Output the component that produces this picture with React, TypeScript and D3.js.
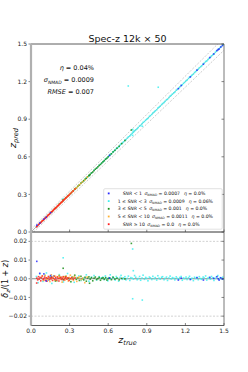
import React from 'react';
import * as d3 from 'd3';

const titleText = 'Spec-z 12k × 50';
const axisTicks = [0, 0.3, 0.6, 0.9, 1.2, 1.5];
const axisTickLabels = ['0.0', '0.3', '0.6', '0.9', '1.2', '1.5'];
const resTicks = [-0.02, -0.01, 0, 0.01, 0.02];
const resTickLabels = ['\u22120.02', '\u22120.01', '0.00', '0.01', '0.02'];
const statLabels = ['\u03b7 = 0.04%', '0.0009', 'RMSE = 0.007'];

// SNR classes (legend order)
const classPrefix = ['', '1 \u2264 ', '3 \u2264 ', '5 \u2264 ', ''];
const classSuffix = [' < 1', ' < 3', ' < 5', ' < 10', ' \u2265 10'];
const classSigma = ['0.0007', '0.0009', '0.001', '0.0011', '0.0'];
const classEta = ['0.0%', '0.06%', '0.0%', '0.0%', '0.0%'];
const classColors = ['#2a2aff', '#3ff0f0', '#1a8f1a', '#ffb030', '#ff2020'];

// SNR < 1
const blueZ = [0.045, 0.068, 0.1, 0.118, 0.152, 0.61, 1.145, 1.168, 1.238, 1.29, 1.34, 1.39, 1.42, 1.445, 1.455, 1.462, 1.475, 1.488];
const blueDz = [0.0093, 0.0029, 0.0026, -0.0012, 0.0017, 0.0004, -0.0007, 0.0003, -0.0004, 0.0006, -0.0007, 0.0007, 0.0002, 0.0011, 0.0, -0.0007, 0.0005, -0.0002];

// 1 <= SNR < 3
const cyanZ = [
  0.042, 0.055, 0.068, 0.08, 0.093, 0.107, 0.12, 0.134, 0.148, 0.162, 0.176, 0.19, 0.205, 0.22, 0.236, 0.252,
  0.268, 0.284, 0.3, 0.318, 0.336, 0.354, 0.372, 0.39, 0.41, 0.43, 0.45, 0.47, 0.49, 0.51, 0.53, 0.545,
  0.558, 0.567, 0.578, 0.586, 0.597, 0.605, 0.616, 0.624, 0.635, 0.643,
  0.654, 0.663, 0.672, 0.681, 0.692, 0.7, 0.711, 0.719, 0.73, 0.738,
  0.749, 0.757, 0.768, 0.776, 0.787, 0.796, 0.805, 0.814, 0.825, 0.833,
  0.844, 0.852, 0.863, 0.871, 0.882, 0.891, 0.9, 0.909, 0.92, 0.928,
  0.939, 0.947, 0.958, 0.966, 0.977, 0.986, 0.995, 1.004, 1.015, 1.023,
  1.034, 1.042, 1.053, 1.061, 1.072, 1.081, 1.09, 1.099, 1.11, 1.118,
  1.129, 1.137, 1.148, 1.156, 1.167, 1.176, 1.185, 1.194, 1.205, 1.213,
  1.224, 1.232, 1.243, 1.251, 1.262, 1.271, 1.28, 1.289, 1.3, 1.308,
  1.319, 1.327, 1.338, 1.346, 1.357, 1.366, 1.375, 1.384, 1.395, 1.403,
  1.414, 1.422, 1.433, 1.441, 1.452, 1.461, 1.47, 1.479, 1.49, 1.497,
  0.79, 0.795, 0.79, 0.865, 0.25, 0.756, 0.989,
];
const cyanDz = [
  0.0012, -0.0021, 0.0026, 0.0005, -0.0014, 0.0018, 0.0031, -0.0008, 0.0009, -0.0025, 0.0016, 0.0002, -0.0011, 0.0022, 0.0007, -0.0017,
  0.0013, 0.0028, -0.0004, 0.001, -0.0019, 0.0006, 0.0015, -0.0009, 0.0003, 0.0021, -0.0013, 0.0008, 0.0017, -0.0006, 0.0011, 0.0004,
  0.0008, -0.0004, 0.0015, 0.0002, -0.0011, 0.0006, 0.0021, -0.0002, 0.0009, 0.0004,
  -0.0007, 0.0012, 0.0003, -0.0013, 0.0007, 0.0018, -0.0003, 0.0005, 0.0011, -0.0006,
  0.0002, 0.0014, -0.0009, 0.0006, 0.0003, -0.0002, 0.0017, 0.0008, -0.0005, 0.0001,
  0.0012, -0.0008, 0.0004, 0.0019, -0.0003, 0.0007, 0.0002, -0.0011, 0.0009, 0.0005,
  -0.0004, 0.0013, 0.0001, 0.0006, -0.0007, 0.0016, 0.0003, -0.0002, 0.0008, 0.0011,
  -0.0005, 0.0002, 0.0009, -0.0009, 0.0004, 0.0014, -0.0001, 0.0006, 0.0003, -0.0006,
  0.001, 0.0002, -0.0003, 0.0007, 0.0012, -0.0008, 0.0004, 0.0001, 0.0009, -0.0004,
  0.0005, 0.0013, -0.0002, 0.0003, -0.001, 0.0008, 0.0002, 0.0006, -0.0005, 0.0011,
  0.0001, -0.0003, 0.0009, 0.0004, 0.0015, -0.0007, 0.0003, 0.0007, -0.0002, 0.0012,
  0.0005, -0.0009, 0.0002, 0.001, 0.0017, -0.0004, 0.0006, 0.0001, 0.0008, -0.0003,
  0.0159, 0.0043, -0.0107, -0.0114, 0.0112, 0.2329, 0.0835,
];

// 3 <= SNR < 5
const greenZ = [0.16, 0.19, 0.22, 0.25, 0.27, 0.29, 0.31, 0.325, 0.34, 0.352, 0.364, 0.376, 0.388, 0.4, 0.41, 0.42, 0.43, 0.44, 0.45, 0.46, 0.47, 0.48, 0.49, 0.5, 0.51, 0.52, 0.53, 0.54, 0.55, 0.56, 0.57, 0.58, 0.59, 0.6, 0.612, 0.625, 0.638, 0.652, 0.668, 0.685, 0.705, 0.73, 0.78, 0.25, 0.455];
const greenDz = [0.0009, -0.0012, 0.0016, -0.0005, 0.0011, 0.0002, -0.0016, 0.0007, 0.0019, -0.0003, 0.0005, -0.0009, 0.0013, 0.0001, -0.0006, 0.0008, -0.0013, 0.0004, 0.001, -0.0002, 0.0006, -0.0011, 0.0003, 0.0009, -0.0004, 0.0001, 0.0007, -0.0008, 0.0002, 0.0005, -0.0003, 0.0006, -0.0007, 0.0001, 0.0004, -0.0005, 0.0008, -0.0002, 0.0003, -0.0006, 0.0002, -0.0001, 0.0189, 0.0056, -0.0024];

// 5 <= SNR < 10
const orangeZ = [0.085, 0.098, 0.11, 0.123, 0.135, 0.147, 0.158, 0.17, 0.181, 0.19, 0.2, 0.209, 0.218, 0.226, 0.234, 0.242, 0.25, 0.258, 0.266, 0.274, 0.282, 0.29, 0.298, 0.306, 0.314, 0.322, 0.33, 0.338, 0.347, 0.356, 0.366, 0.377, 0.389, 0.402, 0.418, 0.436];
const orangeDz = [0.0012, -0.0009, 0.0018, -0.0004, 0.0008, -0.0015, 0.0021, 0.0003, -0.0007, 0.0013, -0.0011, 0.0006, 0.0017, -0.0002, 0.0009, -0.0018, 0.0004, 0.0011, -0.0006, 0.0014, 0.0001, -0.0012, 0.0007, 0.0019, -0.0003, 0.0008, -0.0009, 0.0012, 0.0002, -0.0014, 0.0006, 0.001, -0.0005, 0.0003, -0.0021, 0.0009];

// SNR >= 10
const redZ = [0.044, 0.045, 0.052, 0.058, 0.063, 0.07, 0.076, 0.081, 0.088, 0.094, 0.1, 0.106, 0.112, 0.118, 0.124, 0.13, 0.136, 0.142, 0.148, 0.155, 0.161, 0.167, 0.173, 0.18, 0.186, 0.192, 0.198, 0.205, 0.211, 0.217, 0.224, 0.23, 0.237, 0.243, 0.25, 0.257, 0.264, 0.271, 0.279, 0.287, 0.296, 0.305, 0.316, 0.328, 0.342];
const redDz = [-0.0023, 0.0003, -0.0006, 0.0011, -0.0002, 0.0007, -0.0011, 0.0004, 0.0015, -0.0004, 0.0001, 0.0009, -0.0008, 0.0005, -0.0013, 0.0002, 0.0012, -0.0005, 0.0006, -0.0001, 0.0008, -0.0009, 0.0003, 0.0014, -0.0003, 0.0005, -0.0007, 0.001, 0.0001, -0.0012, 0.0004, 0.0007, -0.0004, 0.0002, 0.0011, -0.0006, 0.0003, 0.0008, -0.0002, 0.0005, -0.0009, 0.0001, 0.0006, -0.0003, 0.0004];

const outlierFrac = 0.02;

const FONT = 'DejaVu Sans, sans-serif';

export default function App() {
  const W = 248;
  const H = 372;
  const x = d3.scaleLinear().domain([0, 1.5]).range([31, 224]);
  const yT = d3.scaleLinear().domain([0, 1.5]).range([232, 44]);
  const yB = d3.scaleLinear().domain([-0.025, 0.025]).range([325.5, 232]);
  const [x0, x1] = x.range();
  const tTop = yT.range()[1];
  const tMid = yT.range()[0];
  const tBot = yB.range()[0];

  // draw order: cyan, green, orange, red, blue
  const series = [
    { c: classColors[1], z: cyanZ, dz: cyanDz },
    { c: classColors[2], z: greenZ, dz: greenDz },
    { c: classColors[3], z: orangeZ, dz: orangeDz },
    { c: classColors[4], z: redZ, dz: redDz },
    { c: classColors[0], z: blueZ, dz: blueDz },
  ];

  const line = d3.line<[number, number]>().x((d) => x(d[0])).y((d) => yT(d[1]));
  const diag: [number, number][] = [[0, 0], [1.5, 1.5]];
  const upper: [number, number][] = [[0, outlierFrac], [1.5, 1.5 + outlierFrac * 2.5]];
  const lower: [number, number][] = [[0, -outlierFrac], [1.5, 1.5 - outlierFrac * 2.5]];

  const ms = 1.6;
  const tl = 2.5;

  return (
    <svg width={W} height={H} style={{ position: 'absolute', left: 0, top: 0, background: '#fff' }} fontFamily={FONT}>
      <defs>
        <clipPath id="clipTop">
          <rect x={x0} y={tTop} width={x1 - x0} height={tMid - tTop} />
        </clipPath>
        <clipPath id="clipBot">
          <rect x={x0} y={tMid} width={x1 - x0} height={tBot - tMid} />
        </clipPath>
      </defs>
      <rect x={0} y={0} width={W} height={H} fill="#fff" />

      {/* title */}
      <text x={(x0 + x1) / 2} y={42} textAnchor="middle" fontSize={9.5} fill="#111">{titleText}</text>

      {/* top panel */}
      <g clipPath="url(#clipTop)">
        <path d={line(upper) || ''} stroke="#b8b8b8" strokeWidth={0.7} strokeDasharray="2,1.5" fill="none" />
        <path d={line(lower) || ''} stroke="#b8b8b8" strokeWidth={0.7} strokeDasharray="2,1.5" fill="none" />
        <path d={line(diag) || ''} stroke="#999" strokeWidth={0.8} fill="none" />
        {series.map((s, si) =>
          d3.zip(s.z, s.dz).map(([z, dz], i) => (
            <rect key={`t${si}-${i}`} x={x(z) - ms / 2} y={yT(z + dz * (1 + z)) - ms / 2} width={ms} height={ms} fill={s.c} opacity={0.85} />
          ))
        )}
      </g>

      {/* bottom panel */}
      <g clipPath="url(#clipBot)">
        {resTicks.filter((t) => Math.abs(t) > 0.015).map((t) => (
          <line key={`dl${t}`} x1={x0} x2={x1} y1={yB(t)} y2={yB(t)} stroke="#bdbdbd" strokeWidth={0.7} strokeDasharray="2,1.5" />
        ))}
        <line x1={x0} x2={x1} y1={yB(0)} y2={yB(0)} stroke="#8a8a8a" strokeWidth={1} />
        {series.map((s, si) =>
          d3.zip(s.z, s.dz).map(([z, dz], i) => (
            <rect key={`b${si}-${i}`} x={x(z) - ms / 2} y={yB(dz) - ms / 2} width={ms} height={ms} fill={s.c} opacity={0.85} />
          ))
        )}
      </g>

      {/* ticks */}
      {axisTicks.map((t, i) => (
        <g key={`yt${i}`}>
          <line x1={x1} x2={x1 - tl} y1={yT(t)} y2={yT(t)} stroke="#333" strokeWidth={0.6} />
          <line x1={x0 - tl} x2={x0} y1={yT(t)} y2={yT(t)} stroke="#333" strokeWidth={0.6} />
          <text x={x0 - 4} y={yT(t)} dy="0.35em" textAnchor="end" fontSize={6} fill="#222">{axisTickLabels[i]}</text>
          <line x1={x(t)} x2={x(t)} y1={tMid} y2={tMid - tl} stroke="#333" strokeWidth={0.6} />
          <line x1={x(t)} x2={x(t)} y1={tBot} y2={tBot - tl} stroke="#333" strokeWidth={0.6} />
          <text x={x(t)} y={333} textAnchor="middle" fontSize={6} fill="#222">{axisTickLabels[i]}</text>
        </g>
      ))}
      {resTicks.map((t, i) => (
        <g key={`rt${i}`}>
          <line x1={x1} x2={x1 - tl} y1={yB(t)} y2={yB(t)} stroke="#333" strokeWidth={0.6} />
          <line x1={x0 - tl} x2={x0} y1={yB(t)} y2={yB(t)} stroke="#333" strokeWidth={0.6} />
          <text x={x0 - 4} y={yB(t)} dy="0.35em" textAnchor="end" fontSize={6} fill="#222">{resTickLabels[i]}</text>
        </g>
      ))}

      {/* spines */}
      <line x1={x0} x2={x1} y1={tTop} y2={tTop} stroke="#333" strokeWidth={0.8} />
      <line x1={x0} x2={x1} y1={tMid} y2={tMid} stroke="#333" strokeWidth={1} />
      <line x1={x0} x2={x1} y1={tBot} y2={tBot} stroke="#333" strokeWidth={0.8} />
      <line x1={x1} x2={x1} y1={tTop} y2={tBot} stroke="#555" strokeWidth={0.8} />
      <line x1={x0} x2={x0} y1={tTop} y2={tBot} stroke="#b0b0b0" strokeWidth={2.2} />

      {/* stats */}
      <text x={94} y={69.5} textAnchor="end" fontSize={6.5} fill="#111">
        <tspan fontStyle="italic">{'\u03b7'}</tspan>{statLabels[0].slice(1)}
      </text>
      <text x={94} y={82} textAnchor="end" fontSize={6.5} fill="#111">
        <tspan fontStyle="italic">{'\u03c3'}</tspan>
        <tspan fontSize={4.5} fontStyle="italic" dy={1.5}>NMAD</tspan>
        <tspan dy={-1.5}>{' = ' + statLabels[1]}</tspan>
      </text>
      <text x={94} y={94} textAnchor="end" fontSize={6.5} fill="#111">
        <tspan fontStyle="italic">RMSE</tspan>{statLabels[2].slice(4)}
      </text>

      {/* legend */}
      <rect x={103.7} y={188.7} width={118.5} height={40.5} rx={1.2} fill="#fff" fillOpacity={0.85} stroke="#cfcfcf" strokeWidth={0.6} />
      {classColors.map((c, i) => {
        const cy = 193.4 + i * 7.7;
        return (
          <g key={`lg${i}`}>
            <rect x={108.7 - 0.9} y={cy - 0.9} width={1.8} height={1.8} fill={c} />
            <text x={classPrefix[i] ? 117.7 : 122.7} y={cy} dy="0.35em" fontSize={4.6} fill="#111">
              <tspan>{classPrefix[i]}</tspan>
              <tspan fontStyle="italic">SNR</tspan>
              <tspan>{classSuffix[i]}</tspan>
              <tspan dx={2.5} fontStyle="italic">{'\u03c3'}</tspan>
              <tspan fontSize={3.2} fontStyle="italic" dy={1}>NMAD</tspan>
              <tspan dy={-1}>{' = ' + classSigma[i]}</tspan>
              <tspan dx={4} fontStyle="italic">{'\u03b7'}</tspan>
              <tspan>{' = ' + classEta[i]}</tspan>
            </text>
          </g>
        );
      })}

      {/* axis labels */}
      <text transform={`translate(16,${(tTop + tMid) / 2}) rotate(-90)`} textAnchor="middle" fontSize={9.5} fill="#111">
        <tspan fontStyle="italic">z</tspan>
        <tspan fontSize={6.5} fontStyle="italic" dy={2}>pred</tspan>
      </text>
      <text transform={`translate(8,${(tMid + tBot) / 2}) rotate(-90)`} textAnchor="middle" fontSize={8} fill="#111">
        <tspan fontStyle="italic">{'\u03b4'}</tspan>
        <tspan fontSize={5.5} fontStyle="italic" dy={1.5}>z</tspan>
        <tspan dy={-1.5}>/(1 + </tspan>
        <tspan fontStyle="italic">z</tspan>
        <tspan>)</tspan>
      </text>
      <text x={(x0 + x1) / 2} y={343} textAnchor="middle" fontSize={9.5} fill="#111">
        <tspan fontStyle="italic">z</tspan>
        <tspan fontSize={6.5} fontStyle="italic" dy={2}>true</tspan>
      </text>
    </svg>
  );
}
